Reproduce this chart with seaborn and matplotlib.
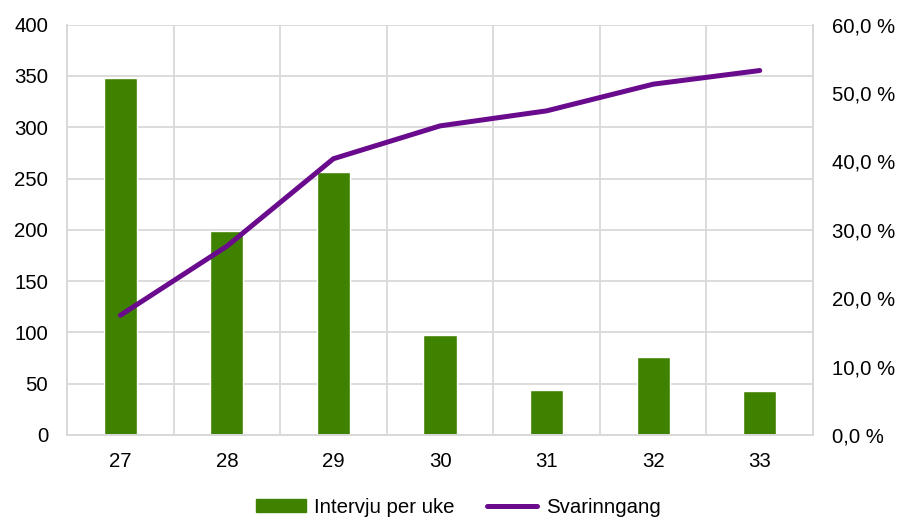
import numpy as np
import pandas as pd
import matplotlib
matplotlib.use("Agg")
import matplotlib.pyplot as plt
import seaborn as sns
from matplotlib.patches import Patch
from matplotlib.lines import Line2D
from matplotlib.ticker import FuncFormatter, MultipleLocator

weeks = ["27", "28", "29", "30", "31", "32", "33"]
intervjuer = [348, 199, 256, 97, 44, 76, 43]
svarinngang = [17.5, 27.6, 40.4, 45.2, 47.4, 51.3, 53.3]

green = "#3F8200"
purple = "#6A0A8C"
grid_col = "#D9D9D9"
fs = 14.7

df = pd.DataFrame({"uke": weeks, "intervju": intervjuer, "svar": svarinngang})

sns.set_theme(style="white")
plt.rcParams["font.family"] = ["Liberation Sans", "DejaVu Sans"]

fig = plt.figure(figsize=(9.09, 5.2), dpi=100)
ax = fig.add_axes([0.0737, 0.1635, 0.8207, 0.789])

sns.barplot(data=df, x="uke", y="intervju", color=green, width=0.31,
            saturation=1, ax=ax, zorder=2)
ax.set_xlim(-0.5, len(weeks) - 0.5)
ax.set_ylim(0, 400)
ax.yaxis.set_major_locator(MultipleLocator(50))
ax.set_xticks(np.arange(len(weeks)) - 0.5, minor=True)
ax.grid(True, axis="y", color=grid_col, linewidth=1.3, zorder=0)
ax.grid(True, axis="x", which="minor", color=grid_col, linewidth=1.3, zorder=0)
ax.set_axisbelow(True)
ax.set_xlabel("")
ax.set_ylabel("")
ax.tick_params(axis="both", which="both", length=0, labelsize=fs, colors="black")
ax.tick_params(axis="y", pad=13.5)
ax.tick_params(axis="x", pad=12.5)

ax2 = ax.twinx()
sns.lineplot(x=np.arange(len(weeks)), y=svarinngang, color=purple, linewidth=3.6,
             ax=ax2, solid_capstyle="round")
ax2.set_ylim(0, 60)
ax2.yaxis.set_major_locator(MultipleLocator(10))
ax2.yaxis.set_major_formatter(FuncFormatter(lambda v, p: f"{v:.1f} %".replace(".", ",")))
ax2.tick_params(axis="y", length=0, labelsize=fs, pad=13.5, colors="black")
ax2.grid(False)

for a in (ax, ax2):
    for s in a.spines.values():
        s.set_color(grid_col)
        s.set_linewidth(1.3)
    a.spines["top"].set_visible(False)

handles = [Patch(facecolor=green, edgecolor=green),
           Line2D([0], [0], color=purple, linewidth=3.6, solid_capstyle="round")]
fig.legend(handles, ["Intervju per uke", "Svarinngang"], loc="center",
           bbox_to_anchor=(0.504, 0.024), ncol=2, frameon=False, fontsize=fs,
           labelcolor="black", handlelength=2.45, handleheight=0.6,
           handletextpad=0.4, columnspacing=1.6)

fig.savefig("out.png", dpi=100)
